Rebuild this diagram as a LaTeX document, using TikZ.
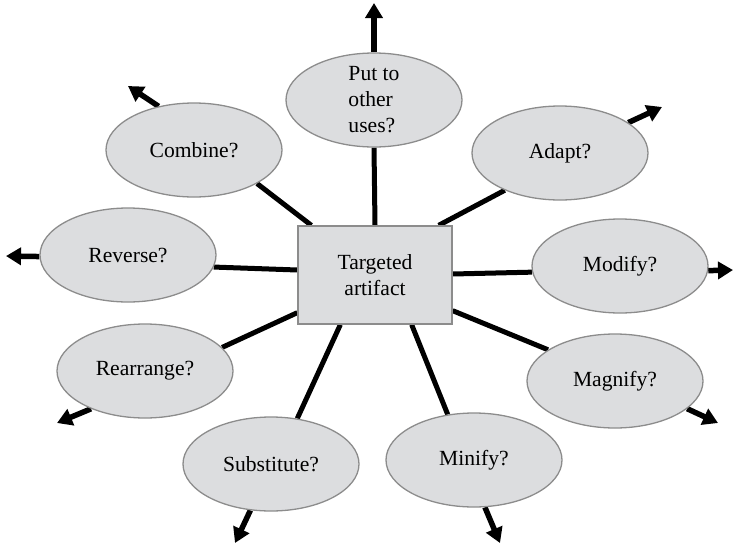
\documentclass[tikz,border=0pt]{standalone}
\usepackage{fontspec}
\setmainfont{Liberation Serif}
\usetikzlibrary{shapes.geometric,arrows.meta,backgrounds}
\definecolor{bubblefill}{HTML}{DCDDDF}
\definecolor{bubbleedge}{HTML}{8C8C8C}
\begin{document}
\begin{tikzpicture}[x=1pt,y=-1pt,
  idea/.style={ellipse,draw=bubbleedge,line width=1.3pt,fill=bubblefill,
    minimum width=176pt,minimum height=94pt,inner sep=0pt,
    font=\fontsize{21.6}{26}\selectfont},
  hub/.style={rectangle,draw=bubbleedge,line width=1.3pt,fill=bubblefill,
    minimum width=154pt,minimum height=98pt,inner sep=0pt,align=center,
    font=\fontsize{21.6}{26}\selectfont},
  link/.style={line width=5pt},
  outarrow/.style={line width=5.5pt,-{Triangle[length=15pt,width=17pt]}}]
\useasboundingbox (0,0) rectangle (735,546);

% central artifact
\node[hub] (box) at (375,275) {Targeted\\artifact};

% SCAMPER-style questions
\node[idea,align=left] (puo) at (374,100) {Put to\\other\\uses?};
\node[idea] (comb)  at (194,150) {Combine?};
\node[idea] (adapt) at (560,153) {Adapt?};
\node[idea] (rev)   at (128,255) {Reverse?};
\node[idea] (mod)   at (620,266) {Modify?};
\node[idea] (rearr) at (145,371) {Rearrange?};
\node[idea] (magn)  at (615,381) {Magnify?};
\node[idea] (subst) at (271,464) {Substitute?};
\node[idea] (minif) at (474,460) {Minify?};

% free ends of the outgoing arrows
\coordinate (tpuo)   at (374,3);
\coordinate (tcomb)  at (128,86);
\coordinate (tadapt) at (662,107);
\coordinate (trev)   at (6,256);
\coordinate (tmod)   at (733,270);
\coordinate (trearr) at (57,423);
\coordinate (tmagn)  at (718,423);
\coordinate (tsubst) at (235,543);
\coordinate (tminif) at (500,543);

\begin{scope}[on background layer]
  % spokes from the artifact to each question
  \draw[link] ([xshift=14pt]box.north west) -- (comb.-28);
  \draw[link] (box.north) -- (puo.south);
  \draw[link] ([xshift=-14pt]box.north east) -- (adapt.-146);
  \draw[link] ([yshift=5pt]box.west) -- (rev.-8);
  \draw[link] ([yshift=1pt]box.east) -- (mod.-176);
  \draw[link] ([yshift=12pt]box.south west) -- (rearr.17);
  \draw[link] ([yshift=14pt]box.south east) -- (magn.155);
  \draw[link] ([xshift=43pt]box.south west) -- (subst.60);
  \draw[link] ([xshift=-41pt]box.south east) -- (minif.120);

  % arrows leading outward
  \draw[outarrow] (puo.north) -- (tpuo);
  \draw[outarrow] (comb.129) -- (tcomb);
  \draw[outarrow] (adapt.24) -- (tadapt);
  \draw[outarrow] (rev.181) -- (trev);
  \draw[outarrow] (mod.-3) -- (tmod);
  \draw[outarrow] (rearr.-145) -- (trearr);
  \draw[outarrow] (magn.-21) -- (tmagn);
  \draw[outarrow] (subst.-114) -- (tsubst);
  \draw[outarrow] (minif.-77) -- (tminif);
\end{scope}
\end{tikzpicture}
\end{document}
